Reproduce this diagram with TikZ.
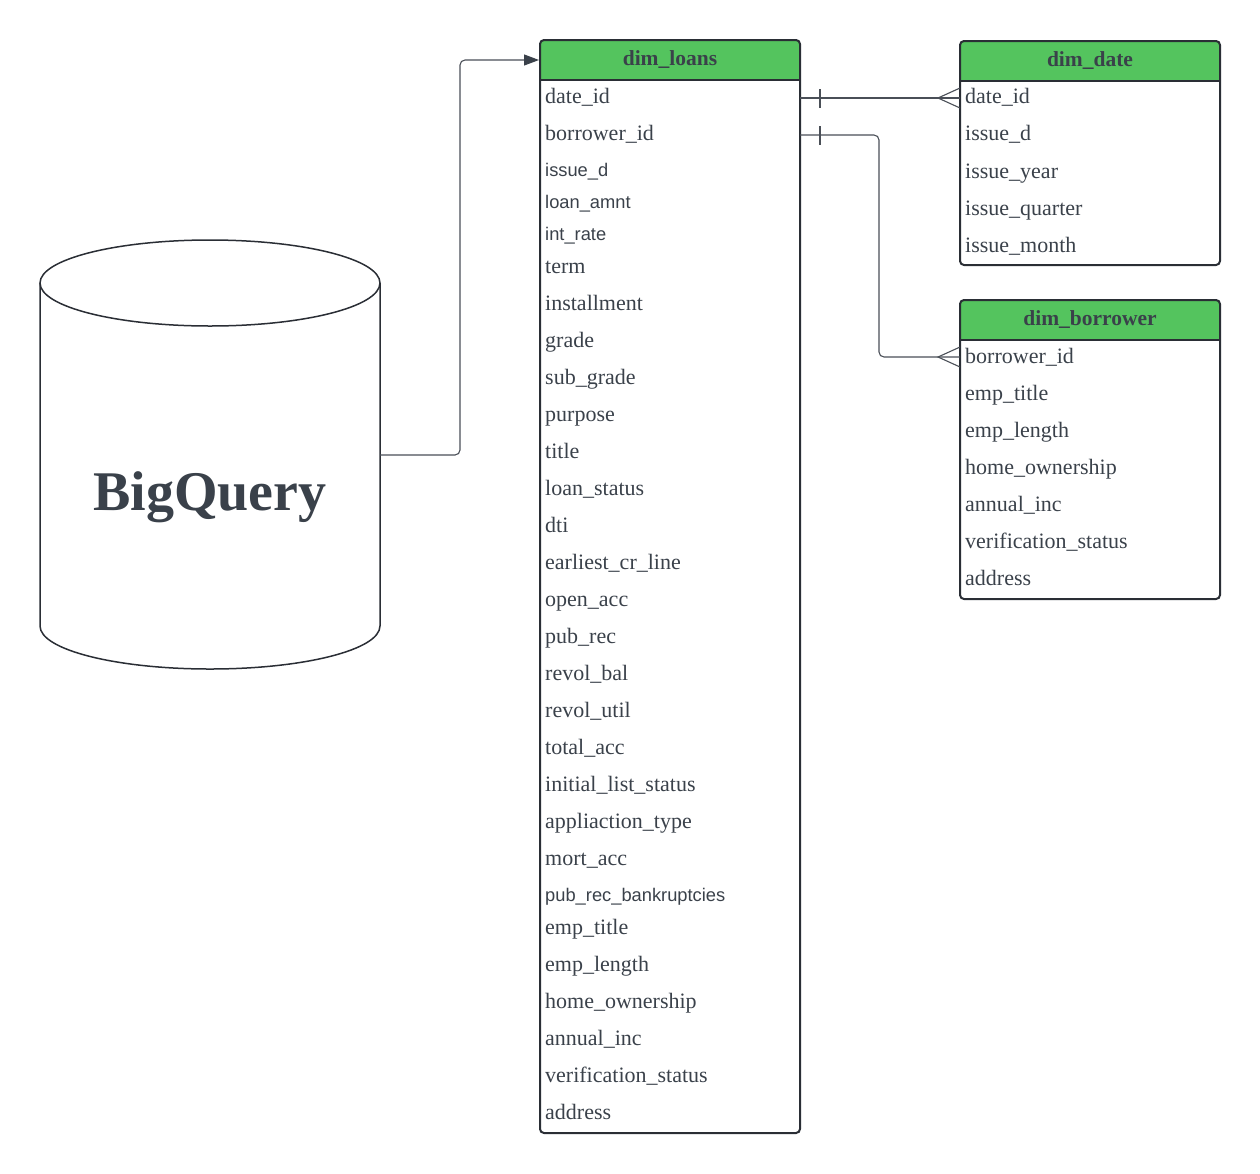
\documentclass[tikz,border=0pt]{standalone}
\usepackage{fontspec}
\setmainfont{Liberation Serif}
\newfontfamily\rowsans{Liberation Sans}
\usetikzlibrary{arrows.meta}
\definecolor{txt}{HTML}{3A414A}
\definecolor{hdr}{HTML}{54C45E}
\definecolor{brd}{HTML}{2A2E35}
\definecolor{cn}{HTML}{4A4F57}
\tikzset{
  rs/.style={anchor=mid west, inner sep=0pt, yshift=-5pt, text=txt, font=\fontsize{22}{25}\selectfont},
  ss/.style={anchor=mid west, inner sep=0pt, yshift=-4pt, text=txt, font=\rowsans\fontsize{18.3}{21}\selectfont},
  hdrtext/.style={inner sep=0pt, yshift=-2pt, text=txt, font=\bfseries\fontsize{21.5}{24}\selectfont},
  tbl/.style={draw=brd, line width=2pt, rounded corners=4pt},
  conn/.style={draw=cn, line width=1.1pt},
}
\begin{document}
\begin{tikzpicture}[x=1pt,y=-1pt]
\useasboundingbox (0,0) rectangle (1260,1173);
% ---------- cylinder ----------
\fill[white] (40,283) -- (40,626) arc[start angle=180,end angle=360,x radius=170pt,y radius=43pt] -- (380,283) -- cycle;
\draw[brd, line width=1.5pt] (40,283) -- (40,626) arc[start angle=180,end angle=360,x radius=170pt,y radius=43pt] -- (380,283);
\draw[brd, line width=1.5pt] (210,283) ellipse[x radius=170pt,y radius=43pt];
\node[inner sep=0pt, text=txt, font=\bfseries\fontsize{56}{60}\selectfont] (bigq) at (210,497) {BigQuery};
\coordinate (cylR) at (380,455);

% dim_loans
\path[fill=hdr] (540,80) [rounded corners=4pt] -- (540,40) -- (800,40) [sharp corners] -- (800,80) -- cycle;
\draw[tbl] (540,40) rectangle (800,1133);
\draw[brd, line width=2pt] (540,80) -- (800,80);
\node[hdrtext] (loansH) at (670,58) {dim\_loans};
\coordinate (loans) at (539,60);
\foreach \i/\t/\y/\s in {
  1/date\_id/96/rs, 2/borrower\_id/133/rs, 3/issue\_d/170/ss, 4/loan\_amnt/202/ss,
  5/int\_rate/234/ss, 6/term/266/rs, 7/installment/303/rs, 8/grade/340/rs,
  9/sub\_grade/377/rs, 10/purpose/414/rs, 11/title/451/rs, 12/loan\_status/488/rs,
  13/dti/525/rs, 14/earliest\_cr\_line/562/rs, 15/open\_acc/599/rs, 16/pub\_rec/636/rs,
  17/revol\_bal/673/rs, 18/revol\_util/710/rs, 19/total\_acc/747/rs,
  20/initial\_list\_status/784/rs, 21/appliaction\_type/821/rs, 22/mort\_acc/858/rs,
  23/pub\_rec\_bankruptcies/895/ss, 24/emp\_title/927/rs, 25/emp\_length/964/rs,
  26/home\_ownership/1001/rs, 27/annual\_inc/1038/rs, 28/verification\_status/1075/rs,
  29/address/1112/rs}
  \node[\s] (l\i) at (545,\y) {\t};

% dim_date
\path[fill=hdr] (960,81) [rounded corners=4pt] -- (960,41) -- (1220,41) [sharp corners] -- (1220,81) -- cycle;
\draw[tbl] (960,41) rectangle (1220,265);
\draw[brd, line width=2pt] (960,81) -- (1220,81);
\node[hdrtext] (dateH) at (1090,59) {dim\_date};
\foreach \i/\t/\y in {1/date\_id/96, 2/issue\_d/133, 3/issue\_year/171, 4/issue\_quarter/208, 5/issue\_month/245}
  \node[rs] (d\i) at (965,\y) {\t};

% dim_borrower
\path[fill=hdr] (960,340) [rounded corners=4pt] -- (960,300) -- (1220,300) [sharp corners] -- (1220,340) -- cycle;
\draw[tbl] (960,300) rectangle (1220,599);
\draw[brd, line width=2pt] (960,340) -- (1220,340);
\node[hdrtext] (borrH) at (1090,318) {dim\_borrower};
\foreach \i/\t/\y in {1/borrower\_id/356, 2/emp\_title/393, 3/emp\_length/430, 4/home\_ownership/467,
  5/annual\_inc/504, 6/verification\_status/541, 7/address/578}
  \node[rs] (b\i) at (965,\y) {\t};

% ---------- connectors ----------
\coordinate (lA) at (800,98);
\coordinate (dA) at (960,98);
\coordinate (lB) at (800,135);
\coordinate (bB) at (960,357);
\draw[conn, rounded corners=5pt, -{Triangle[length=15pt,width=11pt,color=txt]}] (cylR) -- (460,455) -- (460,60) -- (loans);
\draw[conn] (lA) -- (dA);
\draw[conn] (820,89) -- (820,108);
\draw[conn] (dA |- 0,88) -- (938,98) -- (dA |- 0,108);
\draw[conn, rounded corners=5pt] (lB) -- (879,135) -- (879,357) -- (bB);
\draw[conn] (820,126) -- (820,145);
\draw[conn] (bB |- 0,347) -- (938,357) -- (bB |- 0,367);
\end{tikzpicture}
\end{document}
